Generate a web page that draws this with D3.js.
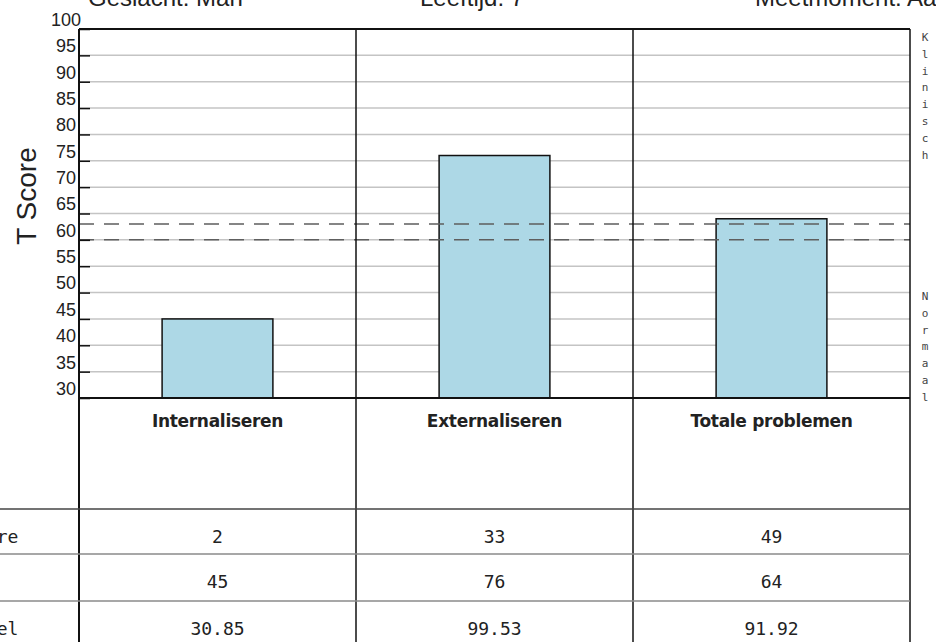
<!DOCTYPE html>
<html>
<head>
<meta charset="utf-8">
<script src="https://cdn.jsdelivr.net/npm/d3@7"></script>
<style>
  body { margin: 0; background: #fff; }
  svg { display: block; }
</style>
</head>
<body>
<script>
// Data
const categories = ["Internaliseren", "Externaliseren", "Totale problemen"];
const tScores = [45, 76, 64];
const rowLabels = ["Ruwe score", "T-score", "Percentiel"];
const rawScores = ["2", "33", "49"];
const tScoreText = ["45", "76", "64"];
const percentiles = ["30.85", "99.53", "91.92"];
const yTicks = [30, 35, 40, 45, 50, 55, 60, 65, 70, 75, 80, 85, 90, 95, 100];
const gridValues = [35, 40, 45, 50, 55, 60, 65, 70, 75, 80, 85, 90, 95];
const cutoffs = [60, 63];
const headerTexts = [
  { text: "Geslacht: Man", x: 88 },
  { text: "Leeftijd: 7", x: 420 },
  { text: "Meetmoment: Aanmelding", x: 755 }
];
const sideLabels = [
  { word: "Klinisch", start: 37 },
  { word: "Normaal", start: 296 }
];

const w = 936;
const h = 642;
const plotL = 79, plotR = 910, plotT = 29, plotB = 398;

const svg = d3.select("body").append("svg")
  .attr("width", w)
  .attr("height", h);

// Scales
const xScale = d3.scaleBand()
  .domain(categories)
  .range([plotL, plotR])
  .padding(0);

const yScale = d3.scaleLinear()
  .domain([30, 100])
  .range([plotB, plotT]);

const barW = xScale.bandwidth() * 0.4;

// header texts (cut off at top)
svg.selectAll("text.head")
  .data(headerTexts)
  .enter()
  .append("text")
  .attr("class", "head")
  .attr("x", d => d.x)
  .attr("y", 6)
  .style("font-family", "'Liberation Sans', Arial, sans-serif")
  .style("font-size", "24px")
  .style("fill", "#222")
  .text(d => d.text);

// gridlines
svg.selectAll("line.grid")
  .data(gridValues)
  .enter()
  .append("line")
  .attr("class", "grid")
  .attr("x1", plotL)
  .attr("x2", plotR)
  .attr("y1", d => yScale(d))
  .attr("y2", d => yScale(d))
  .attr("stroke", "#c4c4c4")
  .attr("stroke-width", 1.5);

// bars
svg.selectAll("rect.bar")
  .data(categories)
  .enter()
  .append("rect")
  .attr("class", "bar")
  .attr("x", d => xScale(d) + (xScale.bandwidth() - barW) / 2)
  .attr("y", (d, i) => yScale(tScores[i]))
  .attr("width", barW)
  .attr("height", (d, i) => yScale(30) - yScale(tScores[i]))
  .attr("fill", "#add8e6")
  .attr("stroke", "#111")
  .attr("stroke-width", 1.5);

// cutoff dashed lines
svg.selectAll("line.cut")
  .data(cutoffs)
  .enter()
  .append("line")
  .attr("class", "cut")
  .attr("x1", plotL)
  .attr("x2", plotR)
  .attr("y1", d => yScale(d))
  .attr("y2", d => yScale(d))
  .attr("stroke", "#5e5e5e")
  .attr("stroke-width", 1.5)
  .attr("stroke-dasharray", "15,10");

// column dividers
svg.selectAll("line.col")
  .data(categories.slice(1))
  .enter()
  .append("line")
  .attr("class", "col")
  .attr("x1", d => xScale(d))
  .attr("x2", d => xScale(d))
  .attr("y1", plotT)
  .attr("y2", h)
  .attr("stroke", "#111")
  .attr("stroke-width", 1.5);

// frame
svg.append("line").attr("x1", plotL).attr("x2", plotR).attr("y1", plotT).attr("y2", plotT)
  .attr("stroke", "#111").attr("stroke-width", 2);
svg.append("line").attr("x1", plotR).attr("x2", plotR).attr("y1", plotT).attr("y2", h)
  .attr("stroke", "#111").attr("stroke-width", 1.5);
svg.append("line").attr("x1", plotL).attr("x2", plotR).attr("y1", plotB).attr("y2", plotB)
  .attr("stroke", "#111").attr("stroke-width", 2);

// Axis
const yAxis = d3.axisLeft(yScale)
  .tickValues(yTicks)
  .tickSize(-11)
  .tickPadding(13)
  .tickFormat(d3.format("d"));

const gy = svg.append("g")
  .attr("transform", "translate(" + plotL + ",0)")
  .call(yAxis);
gy.select(".domain").attr("stroke", "#111").attr("stroke-width", 2)
  .attr("d", "M0," + plotT + "V" + h);
gy.selectAll(".tick line").attr("stroke", "#111").attr("stroke-width", 1.5);
gy.selectAll(".tick text")
  .attr("text-anchor", "middle")
  .attr("dy", "-0.2em")
  .style("font-family", "'Liberation Sans', Arial, sans-serif")
  .style("font-size", "18px")
  .style("fill", "#222");

svg.append("text")
  .attr("transform", "translate(36," + 196 + ") rotate(-90)")
  .attr("text-anchor", "middle")
  .style("font-family", "'Liberation Sans', Arial, sans-serif")
  .style("font-size", "28px")
  .style("fill", "#222")
  .text("T Score");

// side labels, one letter per line
sideLabels.forEach(s => {
  svg.append("g").selectAll("text")
    .data(s.word.split(""))
    .enter()
    .append("text")
    .attr("x", 925)
    .attr("y", (d, i) => s.start + 4 + i * 16.8)
    .attr("text-anchor", "middle")
    .style("font-family", "'DejaVu Sans Mono', monospace")
    .style("font-size", "11px")
    .style("fill", "#444")
    .text(d => d);
});

// category labels
svg.selectAll("text.cat")
  .data(categories)
  .enter()
  .append("text")
  .attr("class", "cat")
  .attr("x", d => xScale(d) + xScale.bandwidth() / 2)
  .attr("y", 427)
  .attr("text-anchor", "middle")
  .style("font-family", "'DejaVu Sans', sans-serif")
  .style("font-weight", "bold")
  .style("font-size", "17px")
  .style("letter-spacing", "-0.3px")
  .style("fill", "#222")
  .text(d => d);

// table rows
const rows = [rawScores, tScoreText, percentiles];
const rowTop = [509, 554, 601];
svg.selectAll("line.row")
  .data(rowTop)
  .enter()
  .append("line")
  .attr("class", "row")
  .attr("x1", 0)
  .attr("x2", plotR)
  .attr("y1", d => d)
  .attr("y2", d => d)
  .attr("stroke", (d, i) => i === 0 ? "#444" : "#8a8a8a")
  .attr("stroke-width", 1.5);

rows.forEach((vals, r) => {
  svg.append("text")
    .attr("x", -90)
    .attr("y", rowTop[r] + 34)
    .style("font-family", "'DejaVu Sans Mono', monospace")
    .style("font-size", "18px")
    .style("fill", "#222")
    .text(rowLabels[r]);
  svg.append("g").selectAll("text")
    .data(categories)
    .enter()
    .append("text")
    .attr("x", d => xScale(d) + xScale.bandwidth() / 2)
    .attr("y", rowTop[r] + 34)
    .attr("text-anchor", "middle")
    .style("font-family", "'DejaVu Sans Mono', monospace")
    .style("font-size", "18px")
    .style("fill", "#222")
    .text((d, i) => vals[i]);
});
</script>
</body>
</html>
